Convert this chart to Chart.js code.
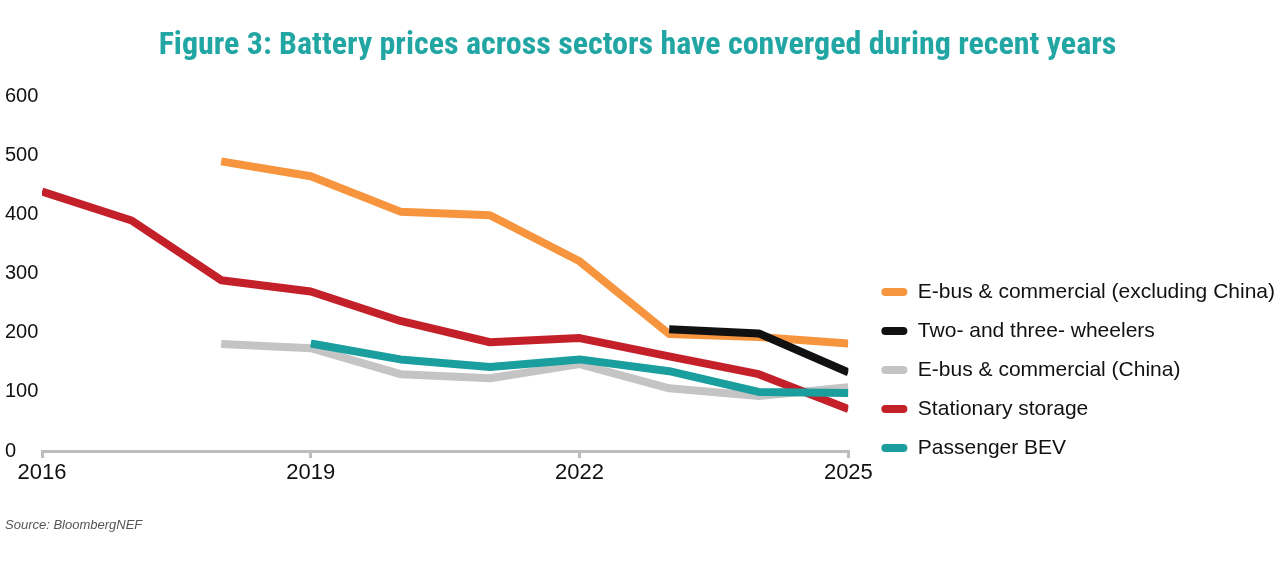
<!DOCTYPE html>
<html>
<head>
<meta charset="utf-8">
<script src="https://cdn.jsdelivr.net/npm/chart.js@4.4.1/dist/chart.umd.min.js"></script>
<style>
  body { margin: 0; background: #fff; }
  #wrap { width: 1280px; height: 569px; position: relative; }
</style>
</head>
<body>
<div id="wrap"><canvas id="myChart"></canvas></div>
<script>
var years = [2016, 2017, 2018, 2019, 2020, 2021, 2022, 2023, 2024, 2025];
var seriesNames = [
  "E-bus & commercial (excluding China)",
  "Two- and three- wheelers",
  "E-bus & commercial (China)",
  "Stationary storage",
  "Passenger BEV"
];
var ebusExChina = [null, null, 490, 465, 405, 399, 321, 198, 193, 182];
var twoThree    = [null, null, null, null, null, null, null, 206, 199, 133];
var ebusChina   = [null, null, 181, 174, 130, 123, 147, 106, 93, 108];
var stationary  = [439, 390, 289, 270, 220, 184, 191, 160, 130, 71];
var passenger   = [null, null, null, 182, 155, 142, 155, 135, 100, 98];
var yTicks = [0, 100, 200, 300, 400, 500, 600];
var xTicks = [2016, 2019, 2022, 2025];

var lineColors = ["#f7953f", "#111111", "#c4c4c4", "#c4202a", "#1a9e9e"];
var drawOrder = [2, 0, 4, 3, 1]; // black on top of orange, teal on top of grey/red

function toPoints(vals) {
  var pts = [];
  for (var i = 0; i < years.length; i++) {
    if (vals[i] !== null) pts.push({x: years[i], y: vals[i]});
  }
  return pts;
}

var allValues = [ebusExChina, twoThree, ebusChina, stationary, passenger];
var datasets = allValues.map(function (vals, i) {
  return {
    label: seriesNames[i],
    data: toPoints(vals),
    borderColor: lineColors[i],
    backgroundColor: lineColors[i],
    borderWidth: 8,
    borderCapStyle: "butt",
    borderJoinStyle: "round",
    pointRadius: 0,
    tension: 0,
    order: drawOrder[i]
  };
});

// legend sits lower and a bit further right than chart.js puts it
var legendNudge = {
  id: "legendNudge",
  afterLayout: function (chart) {
    var lg = chart.legend;
    lg.top += 25.5; lg.bottom += 25.5;
    lg.left += 15; lg.right += 15;
  }
};

var font = "'Liberation Sans', Arial, sans-serif";

new Chart("myChart", {
  type: "line",
  data: { datasets: datasets },
  plugins: [legendNudge],
  options: {
    responsive: true,
    maintainAspectRatio: false,
    animation: false,
    layout: { padding: { left: 5, right: 10, top: 0, bottom: 0 } },
    plugins: {
      tooltip: { enabled: false },
      title: {
        display: true,
        text: "Figure 3: Battery prices across sectors have converged during recent years",
        color: "#22a6a4",
        font: { family: "'Liberation Sans Narrow', 'Roboto Condensed', Roboto, sans-serif", size: 32, weight: "bold" },
        padding: { top: 27, bottom: 31 }
      },
      subtitle: {
        display: true,
        position: "bottom",
        align: "start",
        text: "Source: BloombergNEF",
        color: "#555555",
        font: { family: font, size: 13, style: "italic" },
        padding: { top: 29, bottom: 36 }
      },
      legend: {
        position: "right",
        align: "end",
        fullSize: false,
        maxWidth: 460,
        labels: {
          sort: function (a, b) { return a.datasetIndex - b.datasetIndex; },
          generateLabels: function (chart) {
            var items = Chart.defaults.plugins.legend.labels.generateLabels(chart);
            items.forEach(function (it) { it.lineWidth = 0; });
            return items;
          },
          color: "#111",
          font: { family: font, size: 21 },
          boxWidth: 26,
          boxHeight: 8,
          useBorderRadius: true,
          borderRadius: 4,
          padding: 18
        }
      }
    },
    scales: {
      x: {
        type: "linear",
        min: 2016,
        max: 2025,
        afterBuildTicks: function (axis) {
          axis.ticks = xTicks.map(function (v) { return {value: v}; });
        },
        border: { display: true, color: "#bdbdbd", width: 3 },
        grid: { display: true, drawOnChartArea: false, drawTicks: true, tickLength: 7, color: "#bdbdbd", lineWidth: 3 },
        ticks: {
          color: "#111",
          font: { family: font, size: 22 },
          padding: 2,
          maxRotation: 0,
          callback: function (v) { return String(v); }
        }
      },
      y: {
        min: 0,
        max: 600,
        afterBuildTicks: function (axis) {
          axis.ticks = yTicks.map(function (v) { return {value: v}; });
        },
        afterFit: function (axis) { axis.width = 37; },
        border: { display: false },
        grid: { display: false },
        ticks: {
          color: "#111",
          font: { family: font, size: 20 },
          crossAlign: "far",
          padding: 0
        }
      }
    }
  }
});
</script>
</body>
</html>
